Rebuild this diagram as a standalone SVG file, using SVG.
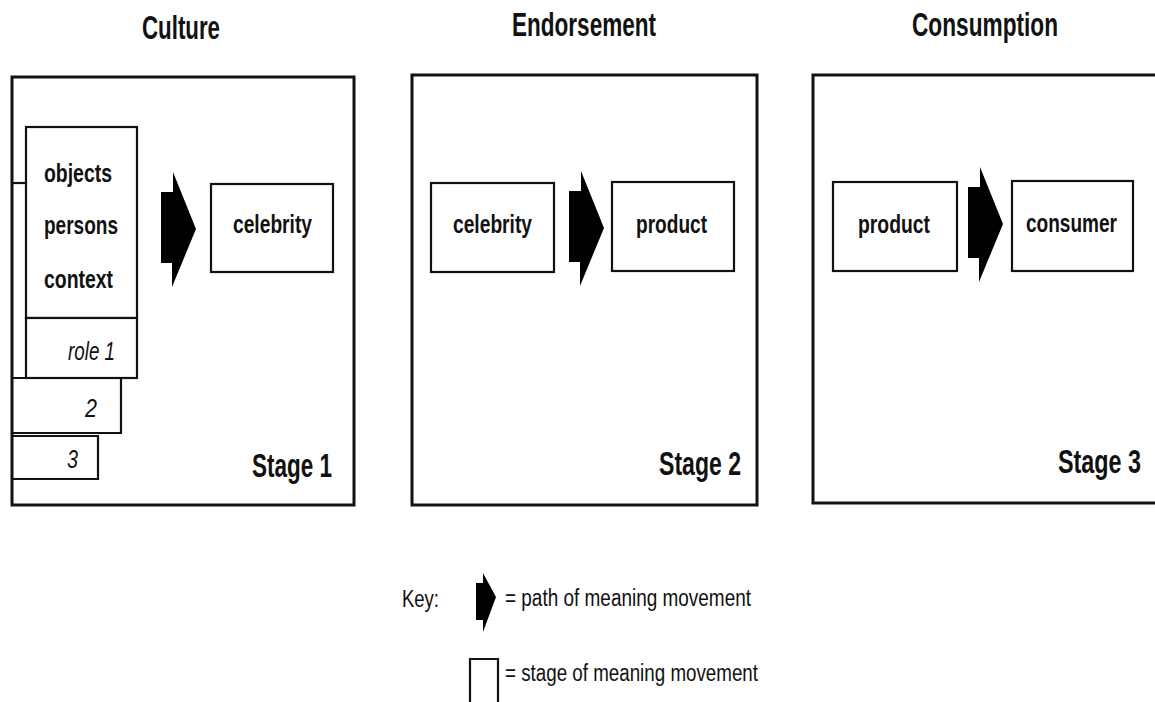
<svg xmlns="http://www.w3.org/2000/svg" width="1155" height="702" viewBox="0 0 1155 702">
<style>
  .stage { fill: none; stroke: #111; stroke-width: 3; }
  .box { fill: #fff; stroke: #111; stroke-width: 2.2; }
  .ln { fill: none; stroke: #111; stroke-width: 2.2; }
  .arrow { fill: #000; stroke: none; }
  text { font-family: "Liberation Sans", Arial, sans-serif; fill: #111; }
  .title { font-size: 33px; font-weight: bold; }
  .stg { font-size: 34px; font-weight: bold; text-anchor: end; }
  .lbl { font-size: 25px; font-weight: bold; }
  .it { font-size: 25px; font-style: italic; }
  .key { font-size: 23px; }
</style>
<defs>
  <path id="fat" d="M0,20 H12 V0 L35,57 L11,115 V91 H0 Z"/>
</defs>
<rect width="1155" height="702" fill="#fff"/>

<g id="titles">
  <text class="title" x="142" y="39" textLength="78" lengthAdjust="spacingAndGlyphs">Culture</text>
  <text class="title" x="512" y="36" textLength="144" lengthAdjust="spacingAndGlyphs">Endorsement</text>
  <text class="title" x="912" y="36" textLength="146" lengthAdjust="spacingAndGlyphs">Consumption</text>
</g>

<g id="stage1">
  <rect class="stage" x="12" y="77" width="342" height="428"/>
  <text class="stg" transform="translate(332,477) scale(0.662,1)">Stage 1</text>
</g>
<g id="roles">
  <line class="ln" x1="12" y1="183" x2="26" y2="183"/>
  <path class="ln" d="M12,436 H98 V479 H12"/>
  <text class="it" x="67" y="468" textLength="11" lengthAdjust="spacingAndGlyphs">3</text>
  <path class="ln" d="M12,378 H121 V433 H12"/>
  <text class="it" x="85" y="417" textLength="12" lengthAdjust="spacingAndGlyphs">2</text>
</g>
<g id="culture-sources">
  <rect class="box" x="26" y="127" width="111" height="191"/>
  <text class="lbl" x="44" y="182" textLength="68" lengthAdjust="spacingAndGlyphs">objects</text>
  <text class="lbl" x="44" y="234" textLength="74" lengthAdjust="spacingAndGlyphs">persons</text>
  <text class="lbl" x="44" y="288" textLength="69" lengthAdjust="spacingAndGlyphs">context</text>
</g>
<g id="role1">
  <rect class="box" x="26" y="318" width="111" height="60"/>
  <text class="it" x="68" y="360" textLength="47" lengthAdjust="spacingAndGlyphs">role 1</text>
</g>
<g id="celebrity1">
  <rect class="box" x="211" y="184" width="122" height="88"/>
  <text class="lbl" x="233" y="233" textLength="79" lengthAdjust="spacingAndGlyphs">celebrity</text>
</g>

<g id="stage2">
  <rect class="stage" x="412" y="75" width="345" height="430"/>
  <text class="stg" transform="translate(741,475) scale(0.678,1)">Stage 2</text>
</g>
<g id="celebrity2">
  <rect class="box" x="431" y="183" width="123" height="89"/>
  <text class="lbl" x="453" y="233" textLength="79" lengthAdjust="spacingAndGlyphs">celebrity</text>
</g>
<g id="product2">
  <rect class="box" x="612" y="182" width="122" height="89"/>
  <text class="lbl" x="636" y="233" textLength="71" lengthAdjust="spacingAndGlyphs">product</text>
</g>

<g id="stage3">
  <path class="stage" d="M1156,75 H813 V503 H1156"/>
  <text class="stg" transform="translate(1141,473) scale(0.687,1)">Stage 3</text>
</g>
<g id="product3">
  <rect class="box" x="833" y="182" width="124" height="89"/>
  <text class="lbl" x="858" y="233" textLength="72" lengthAdjust="spacingAndGlyphs">product</text>
</g>
<g id="consumer">
  <rect class="box" x="1012" y="181" width="121" height="90"/>
  <text class="lbl" x="1026" y="232" textLength="91" lengthAdjust="spacingAndGlyphs">consumer</text>
</g>

<g id="connectors">
  <use href="#fat" class="arrow" x="161" y="172"/>
  <use href="#fat" class="arrow" x="569" y="171"/>
  <use href="#fat" class="arrow" x="968" y="167"/>
</g>

<g id="key">
  <text class="key" x="402" y="607" textLength="37" lengthAdjust="spacingAndGlyphs">Key:</text>
  <path class="arrow" d="M476,583 H483 V573 L496,597 L483,632 V620 H476 Z"/>
  <text class="key" x="505" y="606" textLength="246" lengthAdjust="spacingAndGlyphs">= path of meaning movement</text>
  <path class="ln" d="M470,702 V659 H498 V702"/>
  <text class="key" x="505" y="681" textLength="253" lengthAdjust="spacingAndGlyphs">= stage of meaning movement</text>
</g>
</svg>
